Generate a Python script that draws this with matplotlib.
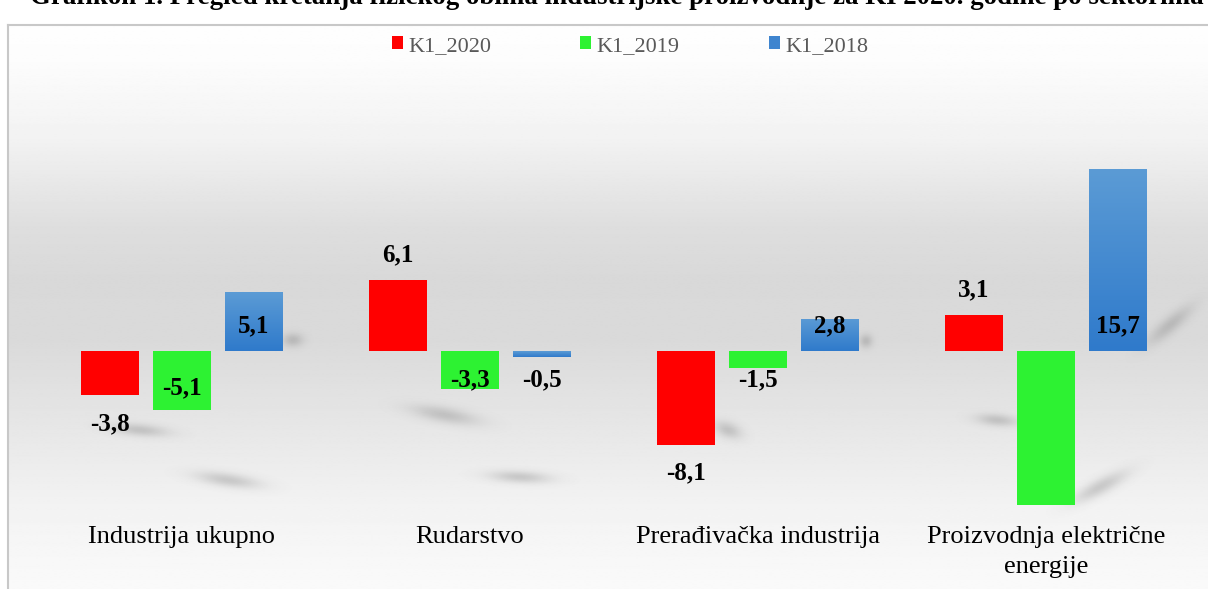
import numpy as np
import matplotlib
matplotlib.use("Agg")
import matplotlib.pyplot as plt
from matplotlib.colors import LinearSegmentedColormap
from matplotlib.patches import Patch

categories = ["Industrija ukupno", "Rudarstvo", "Prerađivačka industrija",
              "Proizvodnja električne\nenergije"]
series_names = ["K1_2020", "K1_2019", "K1_2018"]
k1_2020 = [-3.8, 6.1, -8.1, 3.1]
k1_2019 = [-5.1, -3.3, -1.5, -13.3]
k1_2018 = [5.1, -0.5, 2.8, 15.7]
title = ("Grafikon 1. Pregled kretanja fizičkog obima industrijske proizvodnje "
         "za KI 2020. godine po sektorima")

# which values carry a data label (the big green bar in the last group has none)
show_label = [[True, True, True, True],
              [True, True, True, False],
              [True, True, True, True]]

colors = ["#ff0000", "#2df232", "#4a8ad2"]
serif = ["Liberation Serif", "DejaVu Serif"]

W, H = 1208, 589
PT = 0.72  # points per pixel at dpi 100
fig = plt.figure(figsize=(W / 100, H / 100), dpi=100)

# ---- background panel (pixel coordinates) with vertical gradient ----
bg = fig.add_axes([8 / W, 0, 1 - 8 / W, (H - 25) / H])
bg.set_xlim(8, W)
bg.set_ylim(H, 25)
grad_pos = [0.0, 0.06, 0.2, 0.36, 0.45, 0.56, 0.7, 0.85, 1.0]
grad_val = [0.995, 0.99, 0.95, 0.87, 0.85, 0.855, 0.9, 0.95, 0.98]
g = np.interp(np.linspace(0, 1, 400), grad_pos, grad_val)
bg.imshow(np.repeat(g[:, None], 2, axis=1), cmap="gray", vmin=0, vmax=1,
          aspect="auto", extent=[8, W, H, 25], interpolation="bilinear")

# soft drop shadows of the Excel style (decorative): cx, cy, half-length, half-height, angle
shadows = [(140, 430, 30, 7, -5), (228, 480, 34, 8, -8), (293, 340, 11, 8, 0),
           (445, 415, 36, 9, -10), (520, 477, 32, 7, -3), (728, 430, 15, 9, -20),
           (866, 341, 7, 8, 0), (1170, 325, 30, 9, 40), (997, 420, 22, 7, -5),
           (1100, 487, 32, 9, 28)]
xs, ys = np.meshgrid(np.arange(8, W) + 0.5, np.arange(25, H) + 0.5)
alpha = np.zeros_like(xs)
for cx, cy, sx, sy, ang in shadows:
    a = np.deg2rad(ang)
    dx, dy = xs - cx, ys - cy
    u = dx * np.cos(a) - dy * np.sin(a)
    v = dx * np.sin(a) + dy * np.cos(a)
    blob = 0.28 * np.exp(-(u / (0.65 * sx)) ** 2 / 2 - (v / (0.6 * sy)) ** 2 / 2)
    alpha = np.maximum(alpha, blob)
shadow_img = np.zeros(xs.shape + (4,))
shadow_img[..., :3] = 0.4
shadow_img[..., 3] = alpha
bg.imshow(shadow_img, extent=[8, W, H, 25], aspect="auto")
bg.set_xticks([])
bg.set_yticks([])
for s in bg.spines.values():
    s.set_color("#c8c8c8")
    s.set_linewidth(1.5)
bg.spines["right"].set_visible(False)
bg.spines["bottom"].set_visible(False)

# ---- main axes: x from 38px to 1190px, zero line at 351px ----
ppu = 59 / 5.1
top_px, bot_px = 70, 515
ax = fig.add_axes([38 / W, (H - bot_px) / H, (1190 - 38) / W, (bot_px - top_px) / H])
ax.set_xlim(-0.5, 3.5)
ax.set_ylim(-(bot_px - 351) / ppu, (351 - top_px) / ppu)
ax.patch.set_alpha(0)
ax.axis("off")

x = np.arange(len(categories))
width = 0.2
offsets = [-0.25, 0, 0.25]
data = [k1_2020, k1_2019, k1_2018]

blue_cmap = LinearSegmentedColormap.from_list("b", ["#2f7acb", "#5b9bd5"])
for si, (vals, col, off) in enumerate(zip(data, colors, offsets)):
    bars = ax.bar(x + off, vals, width, color=col, zorder=3)
    if si == 2:
        for b in bars:
            b.set_facecolor("none")
            b.set_edgecolor("none")
            x0, y0 = b.get_x(), b.get_y()
            w, h = b.get_width(), b.get_height()
            y_lo, y_hi = min(y0, y0 + h), max(y0, y0 + h)
            im = ax.imshow(np.linspace(0, 1, 100)[:, None], cmap=blue_cmap,
                           extent=[x0, x0 + w, y_lo, y_hi], origin="lower",
                           aspect="auto", zorder=3)
            im.set_clip_path(b)
    for ci, v in enumerate(vals):
        if not show_label[si][ci]:
            continue
        txt = f"{v:.1f}".replace(".", ",")
        sign = 1 if v > 0 else -1
        if si == 0:
            anchor = v      # outside end
        else:
            anchor = 0      # inside base
        centre_px = sign * 27
        if si == 1 and ci == 0:
            centre_px = -35
        base_px = centre_px - 8  # baseline sits ~8 px below digit centre
        ax.annotate(txt, (x[ci] + off, anchor), xytext=(0, base_px * PT),
                    textcoords="offset points", ha="center", va="baseline",
                    fontsize=18, fontweight="bold", family=serif, zorder=5)

# category labels: find the top of a single line whose baseline is at 543 px
probe = ax.text(0, -(543 - 351) / ppu, categories[0], ha="center", va="baseline",
                fontsize=19, family=serif)
fig.canvas.draw()
top_disp = probe.get_window_extent().y1
probe.remove()
top_data = ax.transData.inverted().transform((0, top_disp))[1]
for ci, name in enumerate(categories):
    ax.text(x[ci], top_data, name, ha="center", va="top",
            fontsize=19, family=serif, linespacing=1.5, clip_on=False)

handles = [Patch(facecolor=c, edgecolor="none") for c in ["#ff0000", "#2df232", "#3f85cf"]]
leg = fig.legend(handles, series_names, loc="center",
                 bbox_to_anchor=(630 / W, 1 - 46 / H), ncol=3, frameon=False,
                 prop={"family": serif, "size": 16}, handlelength=0.5,
                 handleheight=0.5, columnspacing=4.0, handletextpad=0.25)
for t in leg.get_texts():
    t.set_color("#595959")

# page title, cut off by the top edge as in the source
t = fig.text(30 / W, 1 - 4 / H, title, ha="left", va="baseline", fontsize=16,
             fontweight="bold", family=serif)
fig.canvas.draw()
tw = t.get_window_extent().width
t.set_fontsize(16 * 1178 / tw)

fig.savefig("out.png", dpi=100)
